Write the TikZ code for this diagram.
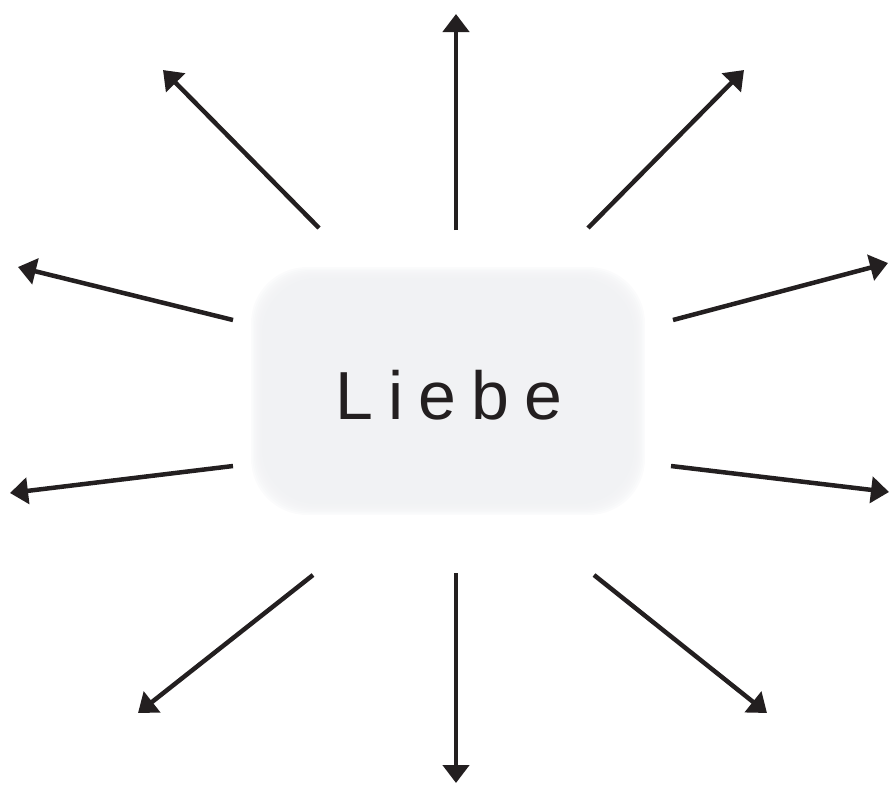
\documentclass[tikz,border=0pt]{standalone}
\usepackage{fontspec}
\newfontfamily\liebefont[LetterSpace=22.5]{Liberation Sans}
\usetikzlibrary{arrows.meta}
\definecolor{inkblack}{HTML}{231F20}
\definecolor{boxgrey}{HTML}{F0F1F3}
\begin{document}
\begin{tikzpicture}
        [x=1pt, y=-1pt,
        ray/.style={inkblack, line width=4.5pt, -{Triangle[length=18pt, width=26pt]}},
        blob/.style={rounded corners=56pt, inner sep=0pt, fill=boxgrey, opacity=0.25},
        wordtext/.style={font=\liebefont\fontsize{68}{68}\selectfont, text=inkblack, inner sep=0pt}]

        \useasboundingbox (0,0) rectangle (890,785);

        % soft grey box
        \foreach \k in {0,...,9}
            \node[blob, minimum width=394pt-3pt*\k, minimum height=248pt-3pt*\k] (box\k) at (448,391) {};
        \node[wordtext] (liebe) at (449,395) {Liebe};

        % ray ends
        \coordinate (s1) at (456,230);  \coordinate (e1) at (456,14);
        \coordinate (s2) at (319,228);  \coordinate (e2) at (163,70);
        \coordinate (s3) at (588,228);  \coordinate (e3) at (744,70);
        \coordinate (s4) at (233,320);  \coordinate (e4) at (18,267);
        \coordinate (s5) at (673,320);  \coordinate (e5) at (888,263);
        \coordinate (s6) at (233,466);  \coordinate (e6) at (10,493);
        \coordinate (s7) at (671,466);  \coordinate (e7) at (889,492);
        \coordinate (s8) at (313,575);  \coordinate (e8) at (138,713);
        \coordinate (s9) at (456,573);  \coordinate (e9) at (456,783);
        \coordinate (s10) at (594,575); \coordinate (e10) at (767,713);

        \draw[ray] (s1) -- (e1);
        \draw[ray] (s2) -- (e2);
        \draw[ray] (s3) -- (e3);
        \draw[ray] (s4) -- (e4);
        \draw[ray] (s5) -- (e5);
        \draw[ray] (s6) -- (e6);
        \draw[ray] (s7) -- (e7);
        \draw[ray] (s8) -- (e8);
        \draw[ray] (s9) -- (e9);
        \draw[ray] (s10) -- (e10);

    \end{tikzpicture}
\end{document}
